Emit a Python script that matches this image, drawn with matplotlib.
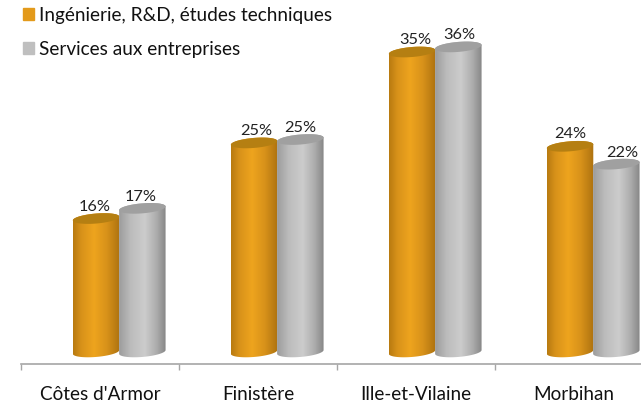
import numpy as np
import matplotlib
matplotlib.use('Agg')
import matplotlib.pyplot as plt
from matplotlib.colors import LinearSegmentedColormap
from matplotlib.patches import Patch, Polygon

categories = ["Côtes d'Armor", "Finistère", "Ille-et-Vilaine", "Morbihan"]
series_names = ["Ingénierie, R&D, études techniques", "Services aux entreprises"]
ingenierie = [15.7, 24.6, 35.3, 24.2]
services = [16.9, 25.0, 35.9, 22.1]

# the data labels are not quite centred on the bars in the original
label_shift_orange = [0, 0.025, 0.03, 0.012]
label_shift_gray = [0, 0.012, 0.018, 0.05]

plt.rcParams['font.family'] = ['Lato', 'DejaVu Sans']

orange_map = LinearSegmentedColormap.from_list('o', [(0, '#b87a10'), (0.18, '#d8921a'), (0.45, '#eea41e'),
                                                     (0.72, '#d8921a'), (1, '#ad7210')])
gray_map = LinearSegmentedColormap.from_list('g', [(0, '#9c9c9c'), (0.25, '#bcbcbc'), (0.55, '#cccccc'),
                                                   (0.8, '#adadad'), (1, '#868686')])

half_w = 0.147
half_h = 0.59
tilt = 0.22


def ellipse_pts(x, y, t):
    return np.column_stack([x + half_w * np.cos(t), y + half_h * np.sin(t) + tilt * np.cos(t)])


def cylinder(ax, x, value, cmap, top_color):
    # body with a horizontal gradient, clipped to the cylinder outline
    bottom_arc = ellipse_pts(x, 0, np.linspace(np.pi, 2 * np.pi, 40))
    top_arc = ellipse_pts(x, value, np.linspace(0, np.pi, 40))
    body = Polygon(np.vstack([bottom_arc, top_arc]), closed=True, fc='none', ec='none', transform=ax.transData)
    ax.add_patch(body)
    grad = np.linspace(0, 1, 256).reshape(1, -1)
    im = ax.imshow(grad, cmap=cmap, aspect='auto', vmin=0, vmax=1, zorder=2,
                   extent=[x - half_w, x + half_w, -half_h - tilt, value + half_h + tilt])
    im.set_clip_path(body)
    # top cap
    cap = Polygon(ellipse_pts(x, value, np.linspace(0, 2 * np.pi, 80)), closed=True, fc=top_color, ec='none', zorder=2)
    ax.add_patch(cap)


fig = plt.figure(figsize=(6.41, 4.07), dpi=100)
# axes line sits at y=364 px, ticks start at x=21 px
ax = fig.add_axes([21 / 641, (407 - 364) / 407, 620 / 641, 364 / 407])

for i in range(len(categories)):
    cylinder(ax, i - 0.025, ingenierie[i], orange_map, '#b57f12')
    cylinder(ax, i + 0.268, services[i], gray_map, '#a0a0a0')
    ax.text(i - 0.035 + label_shift_orange[i], ingenierie[i] + 1.4, '%.0f%%' % ingenierie[i], ha='center', va='center',
            fontsize=11.8, color='#222222', zorder=3)
    ax.text(i + 0.255 + label_shift_gray[i], services[i] + 1.35, '%.0f%%' % services[i], ha='center', va='center',
            fontsize=11.8, color='#222222', zorder=3)

ax.set_xlim(-0.5, -0.5 + 620 / 158)
ax.set_ylim(-12 / 8.45, 350 / 8.45)

for side in ['top', 'left', 'right']:
    ax.spines[side].set_visible(False)
ax.spines['bottom'].set_color('#a6a6a6')
ax.spines['bottom'].set_linewidth(1.2)
ax.set_yticks([])
ax.set_xticks(range(len(categories)))
ax.set_xticklabels(categories, fontsize=13.6, color='#111111')
ax.tick_params(axis='x', which='major', length=0, pad=16)
ax.set_xticks(np.arange(-0.5, 3.5), minor=True)
ax.tick_params(axis='x', which='minor', length=4.3, width=1, color='#a6a6a6')

handles = [Patch(color='#e39a1b'), Patch(color='#bfbfbf')]
ax.legend(handles, series_names, loc='upper left', bbox_to_anchor=(23 / 641, 1 - 6.5 / 407), bbox_transform=fig.transFigure,
          frameon=False, fontsize=13.7, handlelength=0.58, handleheight=0.58, handletextpad=0.26,
          labelspacing=0.92, borderaxespad=0, borderpad=0, labelcolor='#111111')

fig.savefig('out.png', dpi=100)
